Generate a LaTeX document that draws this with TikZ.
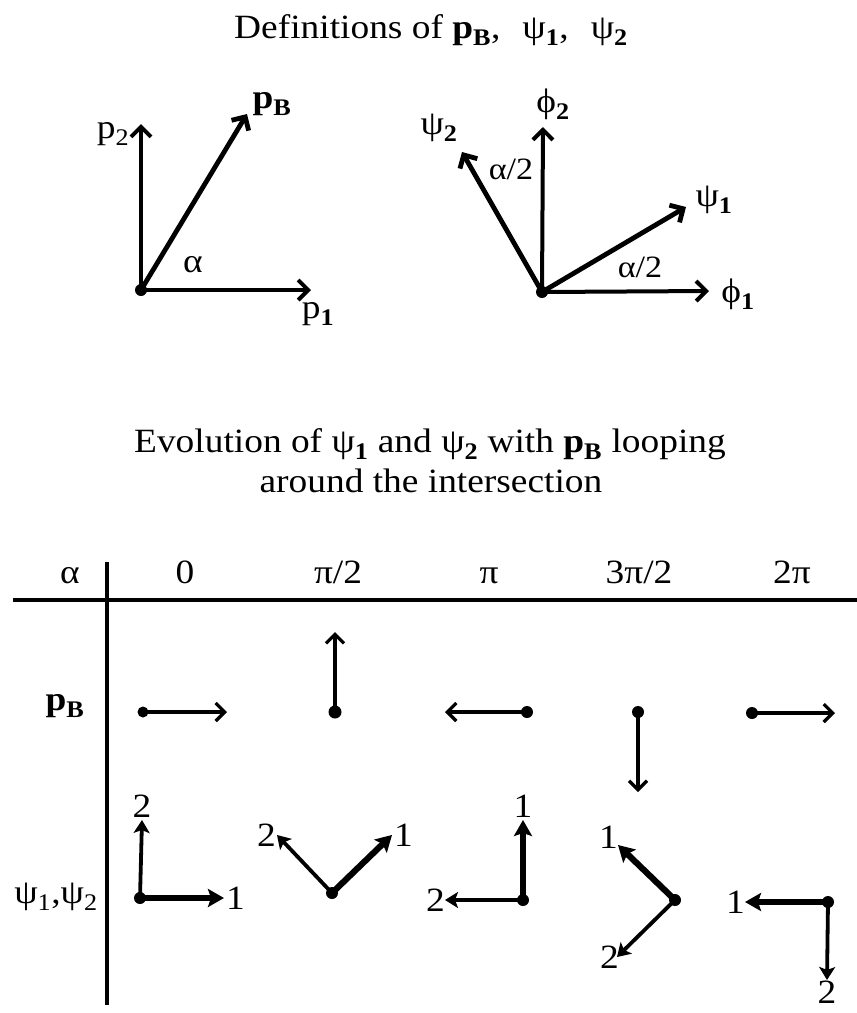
\documentclass[tikz,border=0pt]{standalone}
\usepackage{fontspec}
\setmainfont{Liberation Serif}[FakeStretch=1.1]
\usetikzlibrary{arrows.meta,positioning}
\newcommand{\idx}[1]{\textsubscript{#1}}
\newcommand{\pvec}{\textbf{p\textsubscript{B}}}
\tikzset{
  dot/.style={circle,fill=black,inner sep=0pt,minimum size=#1},
  dot/.default=12pt,
  axis/.style={line width=4pt,-{Straight Barb[length=10pt,width=20pt]}},
  pbrow/.style={line width=3.2pt,-{Straight Barb[length=9pt,width=18pt]}},
  psione/.style={line width=6.2pt,-{Stealth[length=16pt,width=18pt,inset=3pt]}},
  psitwo/.style={line width=3.8pt,-{Stealth[length=13pt,width=16pt,inset=3pt]}},
  lbl/.style={inner sep=0pt},
  rule/.style={line width=3.5pt},
}
\begin{document}
\begin{tikzpicture}[x=1pt,y=-1pt,font=\fontsize{34}{40}\selectfont,node distance=3pt]
  \useasboundingbox (0,0) rectangle (857,1013);
  % definitions
  \node[lbl,anchor=base] (top) at (431,38) {Definitions of \pvec,\hspace{22pt}ψ\idx{\bfseries 1},\hspace{22pt}ψ\idx{\bfseries 2}};
  \node[dot] (o1) at (141,290) {};
  \coordinate (p1) at (311,290);
  \coordinate (p2) at (141,124);
  \coordinate (pb) at (247,114);
  \draw[axis] (o1.center) -- (p1);
  \draw[axis] (o1.center) -- (p2);
  \draw[axis,line width=4.8pt] (o1.center) -- (pb);
  \node[lbl] (lp1) at (318,314) {p\idx{\bfseries 1}};
  \node[lbl] (lp2) at (113,134) {p\idx{2}};
  \node[lbl] (lpb) at (272,104) {\pvec};
  \node[lbl] (la) at (193,265) {α};
  \node[dot] (o2) at (542,292) {};
  \coordinate (f1) at (709,291);
  \coordinate (f2) at (543,127);
  \coordinate (s1) at (686,207);
  \coordinate (s2) at (462,152);
  \draw[axis] (o2.center) -- (f1);
  \draw[axis] (o2.center) -- (f2);
  \draw[axis,line width=4.8pt] (o2.center) -- (s1);
  \draw[axis,line width=4.8pt] (o2.center) -- (s2);
  \node[lbl] (lf1) at (738,294) {ϕ\idx{\bfseries 1}};
  \node[lbl] (lf2) at (553,104) {ϕ\idx{\bfseries 2}};
  \node[lbl] (ls1) at (714,200) {ψ\idx{\bfseries 1}};
  \node[lbl] (ls2) at (439,128) {ψ\idx{\bfseries 2}};
  \node[lbl,font=\fontsize{31}{36}\selectfont] (lh1) at (511,169) {α/2};
  \node[lbl,font=\fontsize{31}{36}\selectfont] (lh2) at (640,267) {α/2};
  % evolution table
  \node[lbl,anchor=base] (mid) at (430,452) {Evolution of ψ\idx{\bfseries 1} and ψ\idx{\bfseries 2} with \pvec\ looping};
  \node[lbl,anchor=base] (mid2) at (431,492) {around the intersection};
  \draw[rule] (13,600) -- (857,600);
  \draw[rule] (107,562) -- (107,1005);
  \node[lbl,anchor=base] (ha) at (70,583) {α};
  \node[lbl,anchor=base] (h0) at (185,583) {0};
  \node[lbl,anchor=base] (h1) at (338,583) {π/2};
  \node[lbl,anchor=base] (h2) at (489,583) {π};
  \node[lbl,anchor=base] (h3) at (639,583) {3π/2};
  \node[lbl,anchor=base] (h4) at (792,583) {2π};
  \node[lbl] (rpb) at (65,706) {\pvec};
  \node[lbl] (rps) at (56,897) {ψ\idx{1},ψ\idx{2}};
  % p_B row
  \node[dot=11pt] (b0) at (143,712) {};
  \node[dot=13pt] (b1) at (335,712) {};
  \node[dot] (b2) at (527,712) {};
  \node[dot] (b3) at (638,712) {};
  \node[dot] (b4) at (752,713) {};
  \coordinate (e0) at (227,712);
  \coordinate (e1) at (335,632);
  \coordinate (e2) at (445,712);
  \coordinate (e3) at (638,792);
  \coordinate (e4) at (835,713);
  \draw[pbrow] (b0.center) -- (e0);
  \draw[pbrow] (b1.center) -- (e1);
  \draw[pbrow] (b2.center) -- (e2);
  \draw[pbrow] (b3.center) -- (e3);
  \draw[pbrow] (b4.center) -- (e4);
  % psi row
  \node[dot] (c0) at (140,898) {};
  \node[dot] (c1) at (332,893) {};
  \node[dot] (c2) at (523,900) {};
  \node[dot] (c3) at (675,900) {};
  \node[dot] (c4) at (828,902) {};
  \coordinate (u0) at (224,898); \coordinate (v0) at (142,820);
  \coordinate (u1) at (392,835); \coordinate (v1) at (277,835);
  \coordinate (u2) at (523,820); \coordinate (v2) at (445,900);
  \coordinate (u3) at (618,845); \coordinate (v3) at (617,957);
  \coordinate (u4) at (745,902); \coordinate (v4) at (827,980);
  \draw[psione] (c0.center) -- (u0); \draw[psitwo] (c0.center) -- (v0);
  \draw[psione] (c1.center) -- (u1); \draw[psitwo] (c1.center) -- (v1);
  \draw[psione] (c2.center) -- (u2); \draw[psitwo] (c2.center) -- (v2);
  \draw[psione] (c3.center) -- (u3); \draw[psitwo] (c3.center) -- (v3);
  \draw[psione] (c4.center) -- (u4); \draw[psitwo] (c4.center) -- (v4);
  \node[lbl,right=2pt of u0] (n0) {1}; \node[lbl,above=2pt of v0] (m0) {2};
  \node[lbl,right=2pt of u1] (n1) {1}; \node[lbl,left=1pt of v1] (m1) {2};
  \node[lbl,above=2pt of u2] (n2) {1}; \node[lbl,left=0pt of v2] (m2) {2};
  \node[lbl,above left=-4pt and 0pt of u3] (n3) {1}; \node[lbl,left=-2pt of v3] (m3) {2};
  \node[lbl,left=0pt of u4] (n4) {1}; \node[lbl,below=1pt of v4] (m4) {2};
\end{tikzpicture}
\end{document}
